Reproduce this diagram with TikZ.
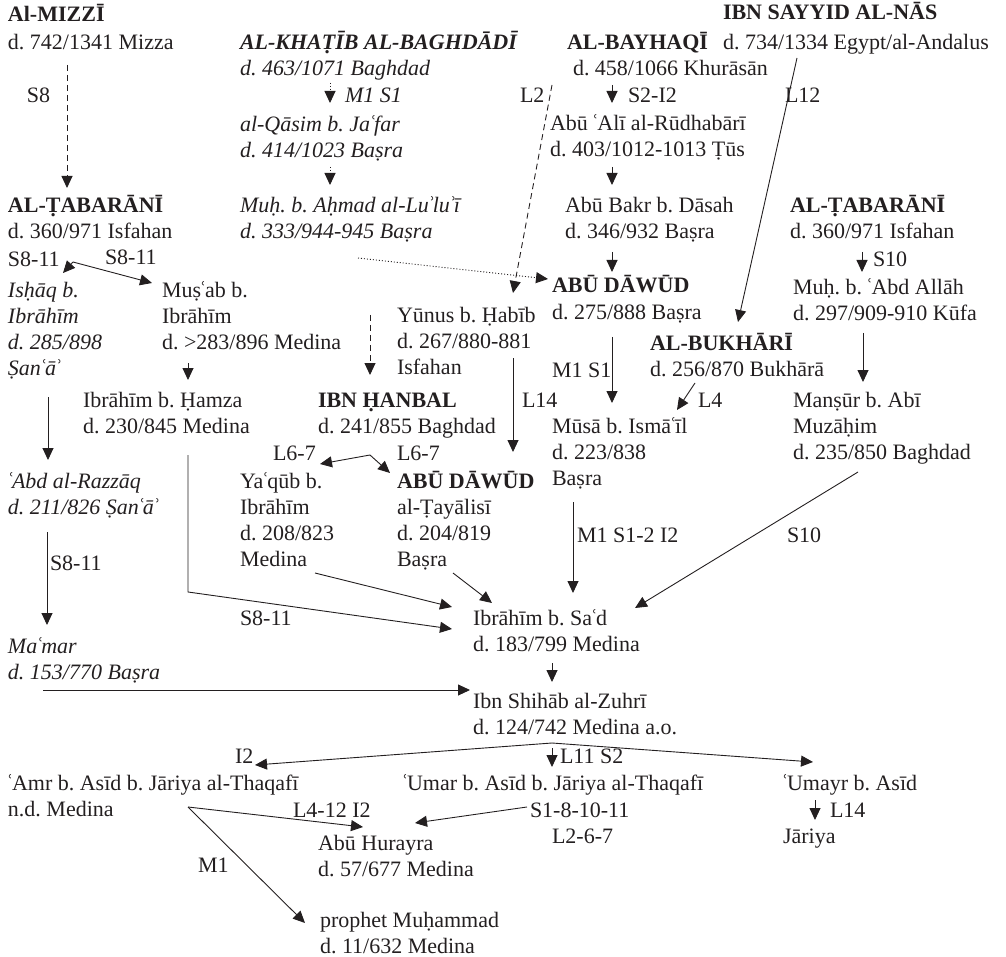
\documentclass[tikz,border=0pt]{standalone}
\usepackage{fontspec}
\setmainfont{Liberation Serif}
\newfontfamily\djs{DejaVu Serif}
\usetikzlibrary{arrows.meta}
\definecolor{ink}{HTML}{231F20}
\frenchspacing
\newcommand\dbl[2]{\iffontchar\font"#2\relax\char"#2\relax\else\oalign{#1\crcr\hidewidth.\hidewidth}\fi}
\newcommand\qT{\dbl{T}{1E6C}}
\newcommand\qH{\dbl{H}{1E24}}
\newcommand\qh{\dbl{h}{1E25}}
\newcommand\qS{\dbl{S}{1E62}}
\newcommand\qs{\dbl{s}{1E63}}
\newcommand\modl[1]{\makebox[4pt][c]{\iffontchar\font"#1\relax\char"#1\relax\else{\djs\char"#1\relax}\fi}}
\newcommand\ayn{\modl{02BF}}
\newcommand\hmz{\modl{02BE}}
\newcommand\stk[1]{\begin{tabular}[t]{@{}l@{}}#1\end{tabular}}
\tikzset{
  tx/.style={anchor=base west, inner sep=0pt, outer sep=0pt, text=ink, font=\fontsize{22}{26}\selectfont\frenchspacing},
  it/.style={tx, font=\fontsize{22}{26}\selectfont\frenchspacing\itshape},
  ar/.style={draw=ink, line width=0.9pt, -{Triangle[length=12pt,width=11pt]}},
  dsh/.style={ar, dash pattern=on 6pt off 4pt},
  dtd/.style={ar, dash pattern=on 1pt off 2pt}
}
\begin{document}
\begin{tikzpicture}[x=1pt,y=-1pt]
\useasboundingbox (0,0) rectangle (1006,957);
% persons
\node[tx] (mizzi) at (8,22) {\stk{\textbf{Al-MIZZĪ}\\[2pt]d. 742/1341 Mizza}};
\node[tx] (khatib) at (240,50) {\stk{\textbf{\textit{AL-KHA\qT ĪB AL-BAGHDĀDĪ}}\\\textit{d. 463/1071 Baghdad}}};
\node[it] (qasim) at (240,132) {\stk{al-Qāsim b. Ja\ayn far\\d. 414/1023 Ba\qs ra}};
\node[it] (lulu) at (240,213) {\stk{Mu\qh. b. A\qh mad al-Lu\hmz lu\hmz ī\\d. 333/944-945 Ba\qs ra}};
\node[tx] (bayhaqi) at (567,50) {\stk{\textbf{AL-BAYHAQĪ}\\\hspace*{6pt}d. 458/1066 Khurāsān}};
\node[tx] (sayyid) at (723,20) {\stk{\textbf{IBN SAYYID AL-NĀS}\\[4pt]d. 734/1334 Egypt/al-Andalus}};
\node[tx] (rudh) at (550,131) {\stk{Abū \ayn Alī al-Rūdhabārī\\d. 403/1012-1013 \qT ūs}};
\node[tx] (dasah) at (565,213) {\stk{Abū Bakr b. Dāsah\\d. 346/932 Ba\qs ra}};
\node[tx] (abudawud) at (552,293) {\stk{\textbf{ABŪ DĀWŪD}\\[1pt]d. 275/888 Ba\qs ra}};
\node[tx] (tabr) at (790,213) {\stk{\textbf{AL-\qT ABARĀNĪ}\\d. 360/971 Isfahan}};
\node[tx] (muhabd) at (793,295) {\stk{Mu\qh. b. \ayn Abd Allāh\\d. 297/909-910 Kūfa}};
\node[tx] (mansur) at (793,407) {\stk{Man\qs ūr b. Abī\\Muzā\qh im\\d. 235/850 Baghdad}};
\node[tx] (bukhari) at (650,350) {\stk{\textbf{AL-BUKHĀRĪ}\\d. 256/870 Bukhārā}};
\node[tx] (musa) at (552,433) {\stk{Mūsā b. Ismā\ayn īl\\d. 223/838\\Ba\qs ra}};
\node[tx] (yunus) at (397,323) {\stk{Yūnus b. \qH abīb\\d. 267/880-881\\Isfahan}};
\node[tx] (hanbal) at (318,407) {\stk{\textbf{IBN \qH ANBAL}\\d. 241/855 Baghdad}};
\node[tx] (tabl) at (8,213) {\stk{\textbf{AL-\qT ABARĀNĪ}\\d. 360/971 Isfahan}};
\node[it] (ishaq) at (8,298) {\stk{Is\qh āq b.\\Ibrāhīm\\d. 285/898\\\qS an\ayn ā\hmz}};
\node[tx] (musab) at (162,298) {\stk{Mu\qs\ayn ab b.\\Ibrāhīm\\d. >283/896 Medina}};
\node[tx] (ihamza) at (83,407) {\stk{Ibrāhīm b. \qH amza\\d. 230/845 Medina}};
\node[it] (razzaq) at (8,488) {\stk{\ayn Abd al-Razzāq\\d. 211/826 \qS an\ayn ā\hmz}};
\node[it] (mamar) at (8,653) {\stk{Ma\ayn mar\\d. 153/770 Ba\qs ra}};
\node[tx] (yaqub) at (240,488) {\stk{Ya\ayn qūb b.\\Ibrāhīm\\d. 208/823\\Medina}};
\node[tx] (tayal) at (397,488) {\stk{\textbf{ABŪ DĀWŪD}\\al-\qT ayālisī\\d. 204/819\\Ba\qs ra}};
\node[tx] (isad) at (473,625) {\stk{Ibrāhīm b. Sa\ayn d\\d. 183/799 Medina}};
\node[tx] (zuhri) at (473,708) {\stk{Ibn Shihāb al-Zuhrī\\d. 124/742 Medina a.o.}};
\node[tx] (amr) at (8,790) {\stk{\ayn Amr b. Asīd b. Jāriya al-Thaqafī\\n.d. Medina}};
\node[tx] (umar) at (403,790) {\ayn Umar b. Asīd b. Jāriya al-Thaqafī};
\node[tx] (umayr) at (783,790) {\ayn Umayr b. Asīd};
\node[tx] (jariya) at (783,843) {Jāriya};
\node[tx] (hurayra) at (318,850) {\stk{Abū Hurayra\\d. 57/677 Medina}};
\node[tx] (prophet) at (320,927) {\stk{prophet Mu\qh ammad\\d. 11/632 Medina}};
% labels
\node[tx] (lS8) at (27,103) {S8};
\node[it] (lMSa) at (345,103) {M1 S1};
\node[tx] (lLtwo) at (520,103) {L2};
\node[tx] (lSI) at (628,103) {S2-I2};
\node[tx] (lLtw) at (785,103) {L12};
\node[tx] (lSta) at (873,267) {S10};
\node[tx] (lSea) at (8,267) {S8-11};
\node[tx] (lSeb) at (105,265) {S8-11};
\node[tx] (lMSb) at (552,377) {M1 S1};
\node[tx] (lLfa) at (522,407) {L14};
\node[tx] (lLf) at (698,407) {L4};
\node[tx] (lLsa) at (273,460) {L6-7};
\node[tx] (lLsb) at (397,460) {L6-7};
\node[tx] (lSec) at (50,570) {S8-11};
\node[tx] (lMSI) at (577,542) {M1 S1-2 I2};
\node[tx] (lStb) at (787,542) {S10};
\node[tx] (lSed) at (240,625) {S8-11};
\node[tx] (lI) at (235,763) {I2};
\node[tx] (lLS) at (560,763) {L11 S2};
\node[tx] (lLI) at (293,817) {L4-12 I2};
\node[tx] (lSx) at (530,817) {S1-8-10-11};
\node[tx] (lLx) at (552,843) {L2-6-7};
\node[tx] (lLfb) at (830,817) {L14};
\node[tx] (lM) at (198,872) {M1};
% connector points
\coordinate (c1a) at (67,65);   \coordinate (c1b) at (67,188);
\coordinate (c2a) at (330,83);  \coordinate (c2b) at (330,103);
\coordinate (c3a) at (330,167); \coordinate (c3b) at (330,185);
\coordinate (c4a) at (358,258); \coordinate (c4b) at (548,279);
\coordinate (c5a) at (552,85);  \coordinate (c5b) at (513,293);
\coordinate (c6a) at (612,85);  \coordinate (c6b) at (612,103);
\coordinate (c7a) at (612,167); \coordinate (c7b) at (612,185);
\coordinate (c8a) at (612,252); \coordinate (c8b) at (612,272);
\coordinate (c9a) at (797,58);  \coordinate (c9b) at (738,322);
\coordinate (c10a) at (862,252); \coordinate (c10b) at (862,272);
\coordinate (c11a) at (863,333); \coordinate (c11b) at (863,382);
\coordinate (f1) at (73,262); \coordinate (f1l) at (63,273); \coordinate (f1r) at (152,283);
\coordinate (c13a) at (188,363); \coordinate (c13b) at (188,380);
\coordinate (c14a) at (48,397); \coordinate (c14b) at (48,460);
\coordinate (c15a) at (47,532); \coordinate (c15b) at (47,625);
\coordinate (c16a) at (43,690); \coordinate (c16b) at (470,690);
\coordinate (c17a) at (188,455); \coordinate (c17m) at (188,592); \coordinate (c17b) at (452,629);
\coordinate (c18a) at (370,315); \coordinate (c18b) at (370,375);
\coordinate (c19a) at (513,358); \coordinate (c19b) at (513,452);
\coordinate (c20a) at (612,337); \coordinate (c20b) at (612,403);
\coordinate (c21a) at (695,383); \coordinate (c21b) at (677,410);
\coordinate (f2) at (370,455); \coordinate (f2l) at (320,464); \coordinate (f2r) at (390,473);
\coordinate (c23a) at (315,573); \coordinate (c23b) at (452,607);
\coordinate (c24a) at (453,573); \coordinate (c24b) at (492,603);
\coordinate (c25a) at (573,502); \coordinate (c25b) at (573,593);
\coordinate (c26a) at (858,472); \coordinate (c26b) at (635,608);
\coordinate (c27a) at (552,663); \coordinate (c27b) at (552,682);
\coordinate (f3) at (552,743); \coordinate (f3l) at (255,765); \coordinate (f3r) at (813,762);
\coordinate (f3d) at (552,748); \coordinate (f3b) at (552,767);
\coordinate (f4) at (188,807); \coordinate (f4r) at (363,827); \coordinate (f4d) at (305,923);
\coordinate (c30a) at (527,807); \coordinate (c30b) at (415,823);
\coordinate (c31a) at (815,800); \coordinate (c31b) at (815,820);
% connectors
\draw[dsh] (c1a) -- (c1b);
\draw[dtd] (c2a) -- (c2b);
\draw[dtd] (c3a) -- (c3b);
\draw[dtd] (c4a) -- (c4b);
\draw[dsh] (c5a) -- (c5b);
\draw[ar] (c6a) -- (c6b);
\draw[ar] (c7a) -- (c7b);
\draw[ar] (c8a) -- (c8b);
\draw[ar] (c9a) -- (c9b);
\draw[ar] (c10a) -- (c10b);
\draw[ar] (c11a) -- (c11b);
\draw[ar] (f1) -- (f1l);
\draw[ar] (f1) -- (f1r);
\draw[ar] (c13a) -- (c13b);
\draw[ar] (c14a) -- (c14b);
\draw[ar] (c15a) -- (c15b);
\draw[ar] (c16a) -- (c16b);
\draw[ar] (c17a) -- (c17m) -- (c17b);
\draw[dsh] (c18a) -- (c18b);
\draw[ar] (c19a) -- (c19b);
\draw[ar] (c20a) -- (c20b);
\draw[ar] (c21a) -- (c21b);
\draw[ar] (f2) -- (f2l);
\draw[ar] (f2) -- (f2r);
\draw[ar] (c23a) -- (c23b);
\draw[ar] (c24a) -- (c24b);
\draw[ar] (c25a) -- (c25b);
\draw[ar] (c26a) -- (c26b);
\draw[ar] (c27a) -- (c27b);
\draw[ar] (f3) -- (f3l);
\draw[ar] (f3) -- (f3r);
\draw[ar] (f3d) -- (f3b);
\draw[ar] (f4) -- (f4r);
\draw[ar] (f4) -- (f4d);
\draw[ar] (c30a) -- (c30b);
\draw[ar] (c31a) -- (c31b);
\end{tikzpicture}
\end{document}
